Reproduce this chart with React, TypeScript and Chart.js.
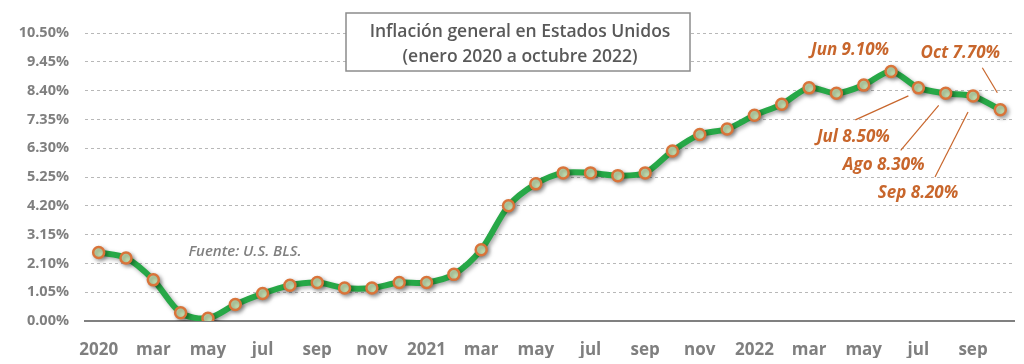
import React, { useEffect, useRef } from "react";
import { Chart, registerables } from "chart.js";

Chart.register(...registerables);

const categories = [
  "2020", "feb", "mar", "abr", "may", "jun", "jul", "ago", "sep", "oct", "nov", "dic",
  "2021", "feb", "mar", "abr", "may", "jun", "jul", "ago", "sep", "oct", "nov", "dic",
  "2022", "feb", "mar", "abr", "may", "jun", "jul", "ago", "sep", "oct",
];

const inflation = [
  2.5, 2.3, 1.5, 0.3, 0.1, 0.6, 1.0, 1.3, 1.4, 1.2, 1.2, 1.4,
  1.4, 1.7, 2.6, 4.2, 5.0, 5.4, 5.4, 5.3, 5.4, 6.2, 6.8, 7.0,
  7.5, 7.9, 8.5, 8.3, 8.6, 9.1, 8.5, 8.3, 8.2, 7.7,
];

const yTicks = [0, 1.05, 2.1, 3.15, 4.2, 5.25, 6.3, 7.35, 8.4, 9.45, 10.5];

const titleLines = ["Inflación general en Estados Unidos", "(enero 2020 a octubre 2022)"];
const sourceText = "Fuente: U.S. BLS.";

const calloutIndex = [29, 30, 31, 32, 33];
const calloutNames = ["Jun", "Jul", "Ago", "Sep", "Oct"];

// pixel layout of callouts relative to their point: [labelDx, labelDy, lineX1, lineY1, lineX2, lineY2]
const calloutLayout: (number[])[] = [
  [-41, -21],
  [-65, 49, -63, 32, -10, 8],
  [-62, 72, -45, 57, -7, 12],
  [-55, 97, -38, 81, -5, 16],
  [-40, -57, -18, -42, -3, -17],
];

const ORANGE = "#c8662c";
const GRAY = "#7f7f7f";
const FONT = "'Open Sans', 'DejaVu Sans', sans-serif";

const decorPlugin = {
  id: "decor",
  beforeDatasetsDraw(chart: any) {
    const ctx = chart.ctx;
    ctx.save();
    ctx.shadowColor = "rgba(0,0,0,0.35)";
    ctx.shadowBlur = 4;
    ctx.shadowOffsetX = 2;
    ctx.shadowOffsetY = 2;
  },
  afterDatasetsDraw(chart: any) {
    const ctx = chart.ctx;
    ctx.restore();
    const xs = chart.scales.x;
    const ys = chart.scales.y;

    // source note
    ctx.save();
    ctx.font = `italic 600 15px ${FONT}`;
    ctx.fillStyle = "#808080";
    ctx.textAlign = "center";
    ctx.textBaseline = "middle";
    ctx.fillText(sourceText, 245, 252);
    ctx.restore();

    // callouts
    ctx.save();
    ctx.font = `italic bold 17px ${FONT}`;
    ctx.fillStyle = ORANGE;
    ctx.strokeStyle = ORANGE;
    ctx.lineWidth = 1.2;
    ctx.textAlign = "center";
    ctx.textBaseline = "middle";
    calloutIndex.forEach((idx, i) => {
      const px = xs.getPixelForValue(idx);
      const py = ys.getPixelForValue(inflation[idx]);
      const lay = calloutLayout[i];
      const text = `${calloutNames[i]} ${inflation[idx].toFixed(2)}%`;
      ctx.fillText(text, px + lay[0], py + lay[1]);
      if (lay.length > 2) {
        ctx.beginPath();
        ctx.moveTo(px + lay[2], py + lay[3]);
        ctx.lineTo(px + lay[4], py + lay[5]);
        ctx.stroke();
      }
    });
    ctx.restore();

    // title box
    ctx.save();
    ctx.fillStyle = "#ffffff";
    ctx.strokeStyle = "#8c8c8c";
    ctx.lineWidth = 1.5;
    ctx.fillRect(346, 13, 344, 58);
    ctx.strokeRect(346, 13, 344, 58);
    ctx.fillStyle = "#595959";
    ctx.font = `600 17.5px ${FONT}`;
    ctx.textAlign = "center";
    ctx.textBaseline = "middle";
    ctx.fillText(titleLines[0], 520, 32);
    ctx.fillText(titleLines[1], 520, 57);
    ctx.restore();
  },
};

export default function App() {
  const ref = useRef<HTMLCanvasElement | null>(null);
  useEffect(() => {
    if (!ref.current) return;
    const chart = new Chart(ref.current, {
      type: "line",
      data: {
        labels: categories,
        datasets: [
          {
            data: inflation,
            borderColor: "#27a847",
            borderWidth: 6,
            tension: 0.3,
            pointRadius: 5.5,
            pointBackgroundColor: "#c6e2b3",
            pointBorderColor: "#d9743a",
            pointBorderWidth: 2.5,
          },
        ],
      },
      options: {
        responsive: false,
        animation: false,
        devicePixelRatio: 1,
        layout: { padding: { left: 8, right: 10, top: 33, bottom: 6 } },
        plugins: { legend: { display: false }, tooltip: { enabled: false } },
        scales: {
          x: {
            type: "category",
            offset: true,
            grid: { display: false, drawTicks: false },
            border: { display: true, color: "#808080", width: 2 },
            ticks: {
              autoSkip: false,
              maxRotation: 0,
              padding: 19,
              color: GRAY,
              font: { family: FONT, size: 17, weight: "bold" },
              callback: (_v: any, i: number) => (i % 2 === 0 ? categories[i] : ""),
            },
            afterFit: (s: any) => {
              s.height = 37;
            },
          },
          y: {
            min: 0,
            max: 10.5,
            afterBuildTicks: (s: any) => {
              s.ticks = yTicks.map((v) => ({ value: v }));
            },
            grid: {
              drawTicks: false,
              color: (c: any) => (c.tick && c.tick.value === 0 ? "rgba(0,0,0,0)" : "#b8b8b8"),
              lineWidth: 1,
            },
            border: { display: false, dash: [3, 3] },
            ticks: {
              padding: 16,
              color: GRAY,
              font: { family: FONT, size: 14.5, weight: "bold" },
              callback: (v: any) => `${Number(v).toFixed(2)}%`,
            },
            afterFit: (s: any) => {
              s.width = 77;
            },
          },
        },
      },
      plugins: [decorPlugin],
    });
    return () => chart.destroy();
  }, []);
  return (
    <div style={{ position: "fixed", left: 0, top: 0, width: 1024, height: 364, background: "#fff" }}>
      <canvas ref={ref} width={1024} height={364} />
    </div>
  );
}
